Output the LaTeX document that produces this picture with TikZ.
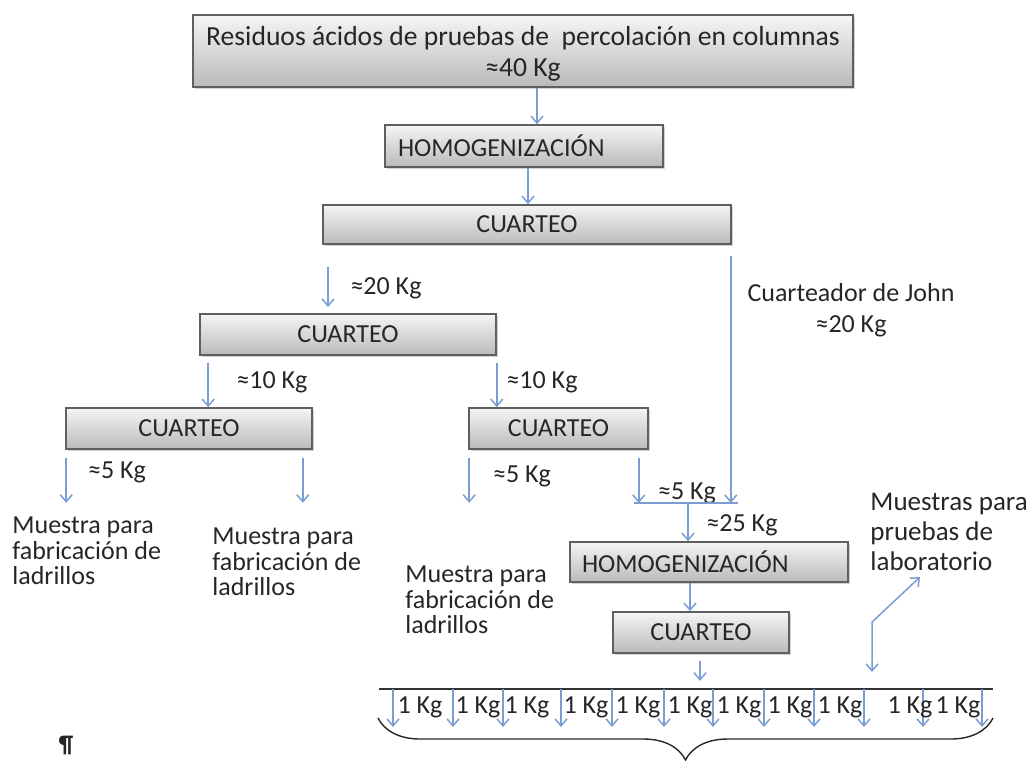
\documentclass[tikz,border=0pt]{standalone}
\usepackage{fontspec}
\setmainfont{Carlito}
\usetikzlibrary{arrows.meta,positioning,shadows,decorations.pathreplacing}

\definecolor{flowblue}{RGB}{122,158,210}
\definecolor{boxedge}{RGB}{95,95,95}
\definecolor{inkgray}{RGB}{38,38,38}

\tikzset{
  procbox/.style={draw=boxedge, line width=0.8pt, top color=black!4, bottom color=black!27,
    drop shadow={shadow xshift=1pt,shadow yshift=-1.2pt,opacity=0.35},
    text=inkgray, font=\fontsize{13}{15.5}\selectfont, inner sep=0pt},
  flow/.style={draw=flowblue, line width=0.75pt, -{Straight Barb[length=3.5pt,width=6pt]}},
  flowline/.style={draw=flowblue, line width=0.75pt},
  lbl/.style={text=inkgray, font=\fontsize{13}{15.5}\selectfont, inner sep=0pt},
  note/.style={lbl, align=left, anchor=west, font=\fontsize{13}{12.8}\selectfont},
}

\begin{document}
\begin{tikzpicture}[x=0.5pt, y=-0.5pt]
\useasboundingbox (0,0) rectangle (1031,760);

% process boxes
\node[procbox, minimum width=330pt, minimum height=36pt, align=center,
  font=\fontsize{13.8}{15.5}\selectfont] (residuos) at (523,51)
  {\rule{0pt}{12pt}Residuos ácidos de pruebas de \ percolación en columnas\\≈40 Kg};
\node[procbox, minimum width=139pt, minimum height=21pt, text width=126pt, align=left] (homog) at (524,146) {HOMOGENIZACIÓN};
\node[procbox, minimum width=204pt, minimum height=19.5pt] (cuarteoA) at (527,224.5) {CUARTEO};
\node[procbox, minimum width=148pt, minimum height=20.5pt] (cuarteoB) at (348,334.5) {CUARTEO};
\node[procbox, minimum width=123pt, minimum height=20.5pt] (cuarteoC) at (189,428.5) {CUARTEO};
\node[procbox, minimum width=89.5pt, minimum height=20.5pt] (cuarteoD) at (558.5,428.5) {CUARTEO};
\node[procbox, minimum width=139pt, minimum height=20pt, text width=127pt, align=left] (homogF) at (709,562) {HOMOGENIZACIÓN};
\node[procbox, minimum width=88pt, minimum height=20.5pt] (cuarteoF) at (701,632.5) {CUARTEO};

% labels
\node[lbl] (kgB) at (386,288) {≈20 Kg};
\node[lbl] (kgC) at (272,382) {≈10 Kg};
\node[lbl] (kgD) at (542,382) {≈10 Kg};
\node[lbl, align=center] (john) at (851,310) {Cuarteador de John\\≈20 Kg};
\node[lbl] (kgC1) at (117,472) {≈5 Kg};
\node[lbl] (kgD1) at (522,476) {≈5 Kg};
\node[lbl] (kgD2) at (687,493) {≈5 Kg};
\node[lbl] (kgF) at (742,525) {≈25 Kg};
\node[note] (ladrilloA) at (12,551) {Muestra para\\fabricación de\\ladrillos};
\node[note] (ladrilloB) at (212,562) {Muestra para\\fabricación de\\ladrillos};
\node[note] (ladrilloC) at (405,600) {Muestra para\\fabricación de\\ladrillos};
\node[note, font=\fontsize{13.5}{15}\selectfont] (muestras) at (870,532) {Muestras para\\pruebas de\\laboratorio};
\node[lbl, font=\bfseries\fontsize{12}{14}\selectfont] (pilcrow) at (66,745) {¶};

\coordinate (mergeL) at (634,503);
\coordinate (mergeR) at (738,503);
\coordinate (merge) at (688,503);
\coordinate (barL) at (379,689);
\coordinate (barR) at (993,689);
\coordinate (labtip) at (920,577);

% connectors
\draw[flow] (residuos.south) ++(14,0) coordinate (r1) -- (r1 |- homog.north);
\draw[flow] (homog.south) ++(4,0) coordinate (h1) -- (h1 |- cuarteoA.north);
\draw[flow] (328,267) -- (328,307);
\draw[flow] (cuarteoA.south east) ++(-1,11) coordinate (j1) -- (j1 |- mergeR);
\draw[flow] (cuarteoB.south west) ++(9,7) coordinate (b1) -- (b1 |- cuarteoC.north);
\draw[flow] (cuarteoB.south east) ++(0,7) coordinate (b2) -- (b2 |- cuarteoD.north);
\draw[flow] (cuarteoC.south west) ++(1,8) -- ++(0,45);
\draw[flow] (cuarteoC.south east) ++(-10,8) -- ++(0,45);
\draw[flow] (cuarteoD.south west) ++(1,8) -- ++(0,45);
\draw[flow] (cuarteoD.south east) ++(-10,8) coordinate (d2) -- (d2 |- mergeL);
\draw[flowline] (mergeL) -- (mergeR);
\draw[flow] (merge) -- (merge |- homogF.north);
\draw[flow] (homogF.south) ++(-19,0) coordinate (f1) -- (f1 |- cuarteoF.north);
\draw[flow] (cuarteoF.south) ++(-1,7) -- ++(0,20);
\draw[flow, {Straight Barb[length=3.5pt,width=6pt]}-{Straight Barb[length=3.5pt,width=6pt]}]
  (872,672) -- (872,622) -- (labtip);

% one-kilo splits
\draw[black!80, line width=0.8pt] (barL) -- (barR);
\foreach \x in {393,453,503,561,612,664,713,764,814,864,923,982}
  \draw[flow] (\x,689) -- (\x,727);
\foreach \x [count=\i] in {420,478,527,586,638,690,739,790,840,910,958}
  \node[lbl] (unokg\i) at (\x,707) {1 Kg};
\draw[black!85, line width=0.7pt, decorate, decoration={brace, amplitude=21pt, mirror}]
  (378,718) -- (993,718);
\end{tikzpicture}
\end{document}
